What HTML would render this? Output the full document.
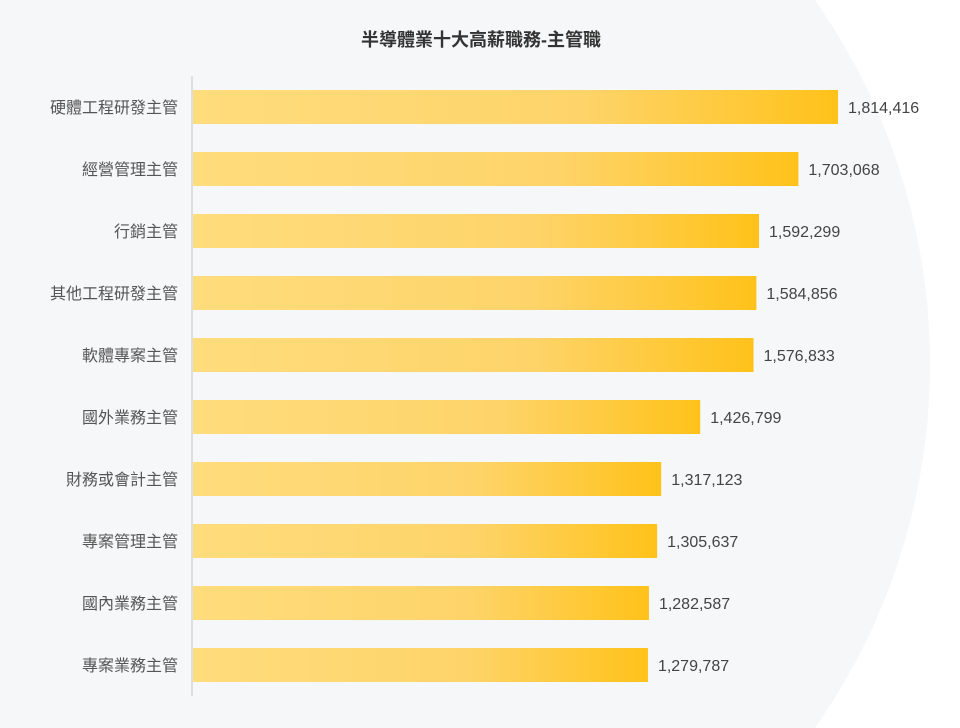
<!DOCTYPE html>
<html><head><meta charset="utf-8">
<style>
html,body{margin:0;padding:0;width:960px;height:728px;overflow:hidden;background:#fff;}
svg{display:block;}
svg text{font-family:"Liberation Sans","Noto Sans CJK TC",sans-serif;}
</style></head>
<body>
<svg id="chart" width="960" height="728" viewBox="0 0 960 728">
  <defs>
    <linearGradient id="barGrad" x1="0" x2="1" y1="0" y2="0">
      <stop offset="0" stop-color="#ffdc7c"/>
      <stop offset="0.6" stop-color="#fed46a"/>
      <stop offset="1" stop-color="#ffc21a"/>
    </linearGradient>
  </defs>
  <circle cx="297" cy="364" r="633" fill="#f6f7f9"/>
  <text x="481" y="46" text-anchor="middle" font-size="18" font-weight="bold" fill="#333">半導體業十大高薪職務-主管職</text>
  <line x1="192" y1="76" x2="192" y2="696" stroke="#dedede" stroke-width="2"/>
  <g id="bars"></g>
</svg>
<script>
const categories = ["硬體工程研發主管","經營管理主管","行銷主管","其他工程研發主管","軟體專案主管","國外業務主管","財務或會計主管","專案管理主管","國內業務主管","專案業務主管"];
const values = [1814416,1703068,1592299,1584856,1576833,1426799,1317123,1305637,1282587,1279787];
const valueLabels = ["1,814,416","1,703,068","1,592,299","1,584,856","1,576,833","1,426,799","1,317,123","1,305,637","1,282,587","1,279,787"];

const x0 = 193, pxPerUnit = 645 / 1814416;
function xScale(v){ return x0 + v * pxPerUnit; }
function yCenter(i){ return 107 + i * 62; }
const barH = 34;
const g = document.getElementById('bars');
const NS = 'http://www.w3.org/2000/svg';
categories.forEach((c, i) => {
  const yc = yCenter(i);
  const r = document.createElementNS(NS, 'rect');
  r.setAttribute('x', x0);
  r.setAttribute('y', yc - barH / 2);
  r.setAttribute('width', xScale(values[i]) - x0);
  r.setAttribute('height', barH);
  r.setAttribute('fill', 'url(#barGrad)');
  
  
  g.appendChild(r);
  const t = document.createElementNS(NS, 'text');
  t.setAttribute('x', 178);
  t.setAttribute('y', yc + 6);
  t.setAttribute('text-anchor', 'end');
  t.setAttribute('font-size', '16');
  t.setAttribute('fill', '#555');
  t.textContent = c;
  
  
  g.appendChild(t);
  const v = document.createElementNS(NS, 'text');
  v.setAttribute('x', xScale(values[i]) + 10);
  v.setAttribute('y', yc + 6);
  v.setAttribute('font-size', '16');
  v.setAttribute('fill', '#444');
  v.textContent = valueLabels[i];
  
  
  g.appendChild(v);
});
</script>
</body></html>
